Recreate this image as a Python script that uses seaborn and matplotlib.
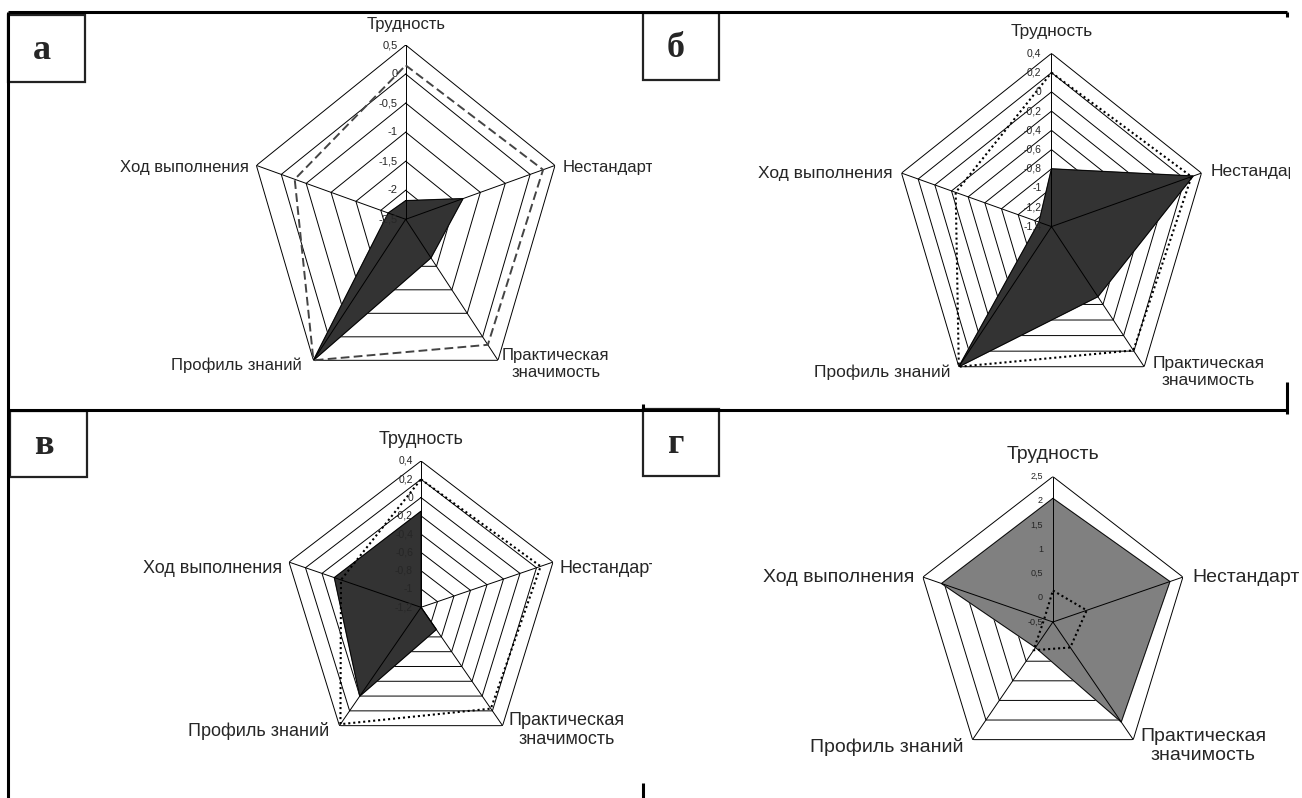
import numpy as np
import matplotlib
matplotlib.use("Agg")
import matplotlib.pyplot as plt
import seaborn as sns
from matplotlib.patches import Rectangle
from matplotlib.transforms import Bbox, TransformedBbox

# categories, clockwise from the top
categories = ["Трудность", "Нестандартность", "Практическая\nзначимость",
              "Профиль знаний", "Ход выполнения"]

# panel а
a_ticks = [-2.5, -2, -1.5, -1, -0.5, 0, 0.5]
a_task = [-2.18, -1.35, -1.68, 0.5, -2.15]
a_ref = [0.15, 0.26, 0.17, 0.5, -0.27]

# panel б
b_ticks = [-1.4, -1.2, -1, -0.8, -0.6, -0.4, -0.2, 0, 0.2, 0.4]
b_task = [-0.8, 0.3, -0.5, 0.4, -1.25]
b_ref = [0.2, 0.28, 0.19, 0.4, -0.25]

# panel в
v_ticks = [-1.2, -1, -0.8, -0.6, -0.4, -0.2, 0, 0.2, 0.4]
v_task = [-0.15, -1.2, -0.9, 0.0, -0.15]
v_ref = [0.2, 0.25, 0.17, 0.38, -0.23]

# panel г
g_ticks = [-0.5, 0, 0.5, 1, 1.5, 2, 2.5]
g_task = [2.05, 2.2, 2.05, 0.15, 2.07]
g_ref = [0.15, 0.28, 0.15, 0.22, -0.3]

sns.set_style("white")
plt.rcParams["font.family"] = ["Liberation Sans", "DejaVu Sans"]

W, H = 1302, 798
fig = plt.figure(figsize=(W / 100, H / 100), dpi=100)

# background axes in pixel units for the frame and letter boxes
bg = fig.add_axes([0, 0, 1, 1])
bg.set_xlim(0, W)
bg.set_ylim(H, 0)
bg.axis("off")

frame = [((8, 1287), (12, 12)), ((1287, 1287), (12, 17)), ((8, 8), (12, 798)),
         ((8, 1287), (410, 410)), ((1287, 1287), (382, 414)),
         ((643, 643), (404, 410)), ((643, 643), (783, 798))]
for xs, ys in frame:
    bg.plot(xs, ys, color="black", lw=2.2, solid_capstyle="butt")

theta = np.linspace(0, 2 * np.pi, 6)

dash_ref = dict(color="#444444", lw=1.4, linestyle=(0, (4.5, 2.2)))
dot_ref = dict(color="black", lw=1.5, linestyle=(0, (1, 1.4)))

panels = [
    dict(letter="а", box=(8, 15, 77, 67), cx=405.7, cy=219.3, rx=157.0, ry=174.3,
         ticks=a_ticks, task=a_task, ref=a_ref, fill="#333333", ref_kw=dash_ref,
         tick_fs=8, tick_dx=-8, lab_fs=12, clip_x=652,
         offs=[(0, 20), (8, -2), (4, -4), (-12, -5), (-8, -2)]),
    dict(letter="б", box=(643, 13, 76, 67), cx=1051.5, cy=226.6, rx=157.7, ry=173.2,
         ticks=b_ticks, task=b_task, ref=b_ref, fill="#333333", ref_kw=dot_ref,
         tick_fs=7.5, tick_dx=-10, lab_fs=12.5, clip_x=1290,
         offs=[(0, 22), (9, 2), (8, -5), (-8, -6), (-9, 0)]),
    dict(letter="в", box=(10, 411, 77, 66), cx=421.0, cy=607.3, rx=138.8, ry=146.3,
         ticks=v_ticks, task=v_task, ref=v_ref, fill="#333333", ref_kw=dot_ref,
         tick_fs=7.5, tick_dx=-8, lab_fs=13, clip_x=652,
         offs=[(0, 21), (6, -6), (6, -4), (-10, -5), (-7, -6)]),
    dict(letter="г", box=(643, 409, 76, 67), cx=1052.9, cy=622.0, rx=136.7, ry=145.4,
         ticks=g_ticks, task=g_task, ref=g_ref, fill="#808080", ref_kw=dot_ref,
         tick_fs=6.5, tick_dx=-10, lab_fs=14, clip_x=1300,
         offs=[(0, 22), (9, 0), (7, -6), (-9, -7), (-9, 0)]),
]

aligns = [("center", "center"), ("left", "center"), ("left", "center"),
          ("right", "center"), ("right", "center")]


def fmt(v):
    return f"{v:g}".replace(".", ",")


for p in panels:
    x0, y0, bw, bh = p["box"]
    bg.add_patch(Rectangle((x0, y0), bw, bh, fill=False, edgecolor="#222222", lw=1.6))
    bg.text(x0 + bw / 2 - 5, y0 + bh / 2 + 2, p["letter"], ha="center", va="center",
            fontsize=26, fontweight="bold", family=["Liberation Serif", "DejaVu Serif"])

    cx, cy, rx, ry = p["cx"], p["cy"], p["rx"], p["ry"]
    ax = fig.add_axes([(cx - rx) / W, (H - cy - ry) / H, 2 * rx / W, 2 * ry / H],
                      projection="polar")
    ax.set_aspect("auto")
    ax.set_theta_offset(np.pi / 2)
    ax.set_theta_direction(-1)
    ax.grid(False)
    ax.set_xticks([])
    ax.set_yticks([])
    ax.spines["polar"].set_visible(False)
    ax.patch.set_alpha(0)

    ticks = p["ticks"]
    rmin, rmax = ticks[0], ticks[-1]

    # pentagon gridlines
    for t in ticks[1:]:
        ax.plot(theta, [t] * 6, color="black", lw=0.7, zorder=1)

    task = p["task"] + p["task"][:1]
    ax.fill(theta, task, color=p["fill"], zorder=2)
    ax.plot(theta, task, color="black", lw=0.6, zorder=2.5)

    # spokes
    for th in theta[:-1]:
        ax.plot([th, th], [rmin, rmax], color="black", lw=0.7, zorder=3)

    ref = p["ref"] + p["ref"][:1]
    sns.lineplot(x=theta, y=ref, ax=ax, sort=False, zorder=4, **p["ref_kw"])

    # tick labels along the top spoke
    for t in ticks:
        ax.annotate(fmt(t), xy=(0, t), xytext=(p["tick_dx"], 0), textcoords="offset pixels",
                    ha="right", va="center", fontsize=p["tick_fs"], zorder=5,
                    annotation_clip=False)

    ax.set_ylim(rmin, rmax)
    ax.set_xlabel("")
    ax.set_ylabel("")

    clip = TransformedBbox(Bbox.from_extents(0, 0, p["clip_x"] / W, 1), fig.transFigure)
    for k, name in enumerate(categories):
        ha, va = aligns[k]
        t = ax.annotate(name, xy=(theta[k], rmax), xytext=p["offs"][k],
                        textcoords="offset pixels", ha=ha, va=va, multialignment="center",
                        fontsize=p["lab_fs"], linespacing=1.15, annotation_clip=False)
        t.set_clip_box(clip)
        t.set_clip_on(True)

fig.savefig("out.png", dpi=100)
